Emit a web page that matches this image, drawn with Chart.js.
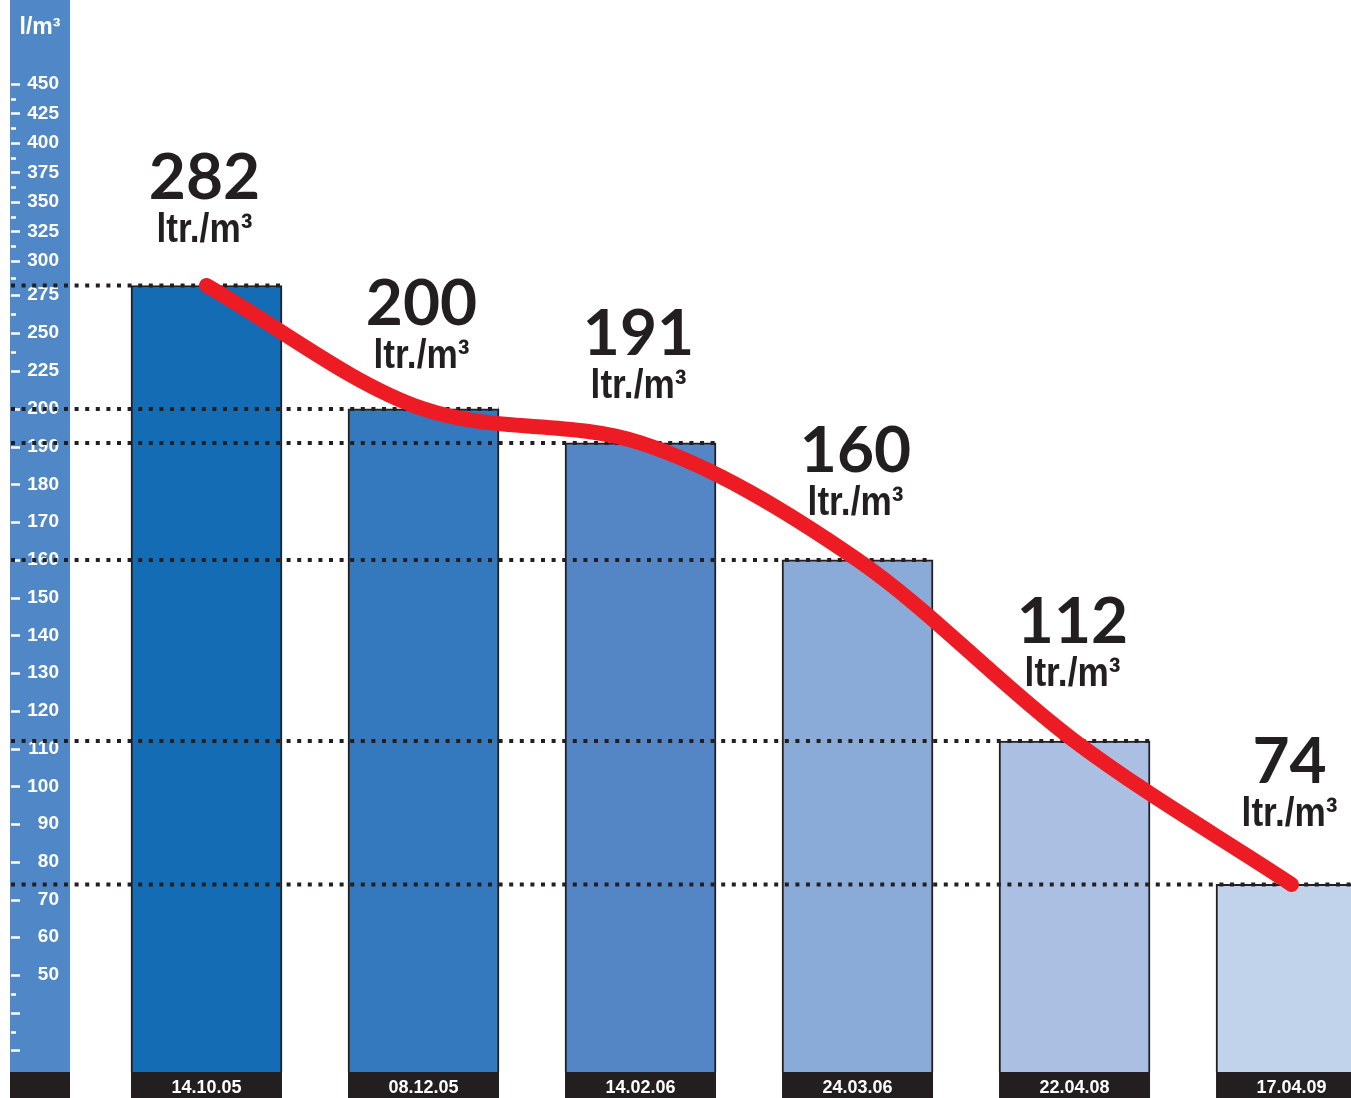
<!DOCTYPE html>
<html>
<head>
<meta charset="utf-8">
<script src="https://cdn.jsdelivr.net/npm/chart.js@4.4.0/dist/chart.umd.min.js"></script>
<style>
  html, body { margin: 0; padding: 0; background: #fff; }
  #wrap { width: 1351px; height: 1098px; }
</style>
</head>
<body>
<div id="wrap"><canvas id="chart" width="1351" height="1098"></canvas></div>
<script>
// values
const dates = ['14.10.05', '08.12.05', '14.02.06', '24.03.06', '22.04.08', '17.04.09'];
const values = [282, 200, 191, 160, 112, 74];
const unitText = 'ltr./m³';
const axisUnit = 'l/m³';

// y axis marks: labelled ones, short dashes, and unlabelled long dashes
const yLabelled = [450, 425, 400, 375, 350, 325, 300, 275, 250, 225, 200, 190, 180, 170, 160, 150, 140, 130, 120, 110, 100, 90, 80, 70, 60, 50];
const yMinor = [437.5, 412.5, 387.5, 362.5, 337.5, 312.5, 287.5, 262.5, 237.5, 45, 35];
const yBare = [40, 30];

const barColors = ['#136cb4', '#3479be', '#5486c6', '#8aabd7', '#abbfe3', '#c1d3eb'];
const ink = '#231f20';
const bandBlue = '#4f87c7';
const red = '#ed1c24';

// the printed axis is not linear: steps get wider below 300 and again below 200
const breaks = [[24.3, 0], [50, 0.0982], [200, 0.6711], [275, 0.7864], [300, 0.8209], [450, 1]];

function toDecimal(v) {
    if (v <= breaks[0][0]) return 0;
    for (let i = 1; i < breaks.length; i++) {
        const [v0, d0] = breaks[i - 1];
        const [v1, d1] = breaks[i];
        if (v <= v1 || i === breaks.length - 1) {
            return d0 + (v - v0) / (v1 - v0) * (d1 - d0);
        }
    }
}

function fromDecimal(d) {
    for (let i = 1; i < breaks.length; i++) {
        const [v0, d0] = breaks[i - 1];
        const [v1, d1] = breaks[i];
        if (d <= d1 || i === breaks.length - 1) {
            return v0 + (d - d0) / (d1 - d0) * (v1 - v0);
        }
    }
}

const LinearScale = Chart.LinearScale || Chart.registry.getScale('linear');

class PiecewiseScale extends LinearScale {
    getPixelForValue(value) {
        if (value === null || isNaN(value)) return NaN;
        return this.getPixelForDecimal(toDecimal(value));
    }
    getValueForPixel(pixel) {
        return fromDecimal(this.getDecimalForPixel(pixel));
    }
}
PiecewiseScale.id = 'piecewise';
PiecewiseScale.defaults = LinearScale.defaults;
Chart.register(PiecewiseScale);

// blue axis band, black footer boxes under the bars
const backdrop = {
    id: 'backdrop',
    beforeDraw(chart) {
        const ctx = chart.ctx;
        const area = chart.chartArea;
        ctx.save();
        ctx.fillStyle = '#ffffff';
        ctx.fillRect(0, 0, chart.width, chart.height);

        ctx.fillStyle = bandBlue;
        ctx.fillRect(10, 0, 60, area.bottom);
        ctx.fillStyle = ink;
        ctx.fillRect(10, area.bottom, 60, chart.height - area.bottom);

        const meta = chart.getDatasetMeta(0);
        meta.data.forEach(bar => {
            ctx.fillRect(bar.x - bar.width / 2, area.bottom, bar.width, chart.height - area.bottom);
        });

        ctx.fillStyle = '#ffffff';
        ctx.font = 'bold 23px "Liberation Sans", Arial, sans-serif';
        ctx.textAlign = 'center';
        ctx.textBaseline = 'alphabetic';
        ctx.fillText(axisUnit, 40, 34);
        ctx.restore();
    }
};

// the little white dashes on the axis band
const axisDashes = {
    id: 'axisDashes',
    beforeDatasetsDraw(chart) {
        const ctx = chart.ctx;
        const y = chart.scales.y;
        ctx.save();
        ctx.strokeStyle = '#ffffff';
        ctx.lineWidth = 2.5;
        const draw = (v, len) => {
            const py = Math.round(y.getPixelForValue(v)) + 0.5;
            ctx.beginPath();
            ctx.moveTo(11, py);
            ctx.lineTo(11 + len, py);
            ctx.stroke();
        };
        yLabelled.forEach(v => draw(v, 9));
        yBare.forEach(v => draw(v, 9));
        yMinor.forEach(v => draw(v, 5));
        ctx.restore();
    }
};

// dotted guides from the axis to each bar top
const guides = {
    id: 'guides',
    afterDatasetDraw(chart, args) {
        if (args.index !== 0) return;
        const ctx = chart.ctx;
        ctx.save();
        ctx.strokeStyle = ink;
        ctx.lineWidth = 4;
        ctx.setLineDash([4, 6.6]);
        args.meta.data.forEach(bar => {
            ctx.beginPath();
            ctx.moveTo(11, bar.y);
            ctx.lineTo(bar.x + bar.width / 2, bar.y);
            ctx.stroke();
        });
        ctx.restore();
    }
};

// big numbers above the bars (the last two sit a bit higher to clear the curve)
const lift = [0, -2, 2, 2, 12, 15];
const valueLabels = {
    id: 'valueLabels',
    afterDatasetsDraw(chart) {
        const ctx = chart.ctx;
        const meta = chart.getDatasetMeta(0);
        ctx.save();
        ctx.fillStyle = ink;
        ctx.textAlign = 'center';
        ctx.textBaseline = 'alphabetic';
        meta.data.forEach((bar, i) => {
            ctx.font = 'bold 64px Lato, "Liberation Sans", sans-serif';
            ctx.fillText(String(values[i]), bar.x - 2, bar.y - 86 - lift[i]);
            // the unit is set in a condensed face in the original
            ctx.save();
            ctx.translate(bar.x - 2, bar.y - 43 - lift[i]);
            ctx.scale(0.88, 1);
            ctx.font = 'bold 40px "Liberation Sans", Arial, sans-serif';
            ctx.fillText(unitText, 0, 0);
            ctx.restore();
        });
        ctx.restore();
    }
};

const points = values.map((v, i) => ({ x: i, y: v }));

new Chart(document.getElementById('chart'), {
    type: 'bar',
    data: {
        datasets: [{
            type: 'bar',
            data: points,
            backgroundColor: barColors,
            borderColor: ink,
            borderWidth: 2,
            borderSkipped: 'bottom',
            barThickness: 151,
            order: 2
        }, {
            type: 'line',
            data: points,
            borderColor: red,
            borderWidth: 15,
            borderCapStyle: 'round',
            borderJoinStyle: 'round',
            cubicInterpolationMode: 'monotone',
            pointRadius: 0,
            fill: false,
            clip: false,
            order: 1
        }]
    },
    options: {
        responsive: false,
        animation: false,
        devicePixelRatio: 1,
        layout: { padding: { top: 84, left: 0, right: 0, bottom: 0 } },
        plugins: {
            legend: { display: false },
            tooltip: { enabled: false }
        },
        scales: {
            x: {
                type: 'linear',
                offset: false,
                bounds: 'data',
                min: -0.629,
                max: 5.274,
                grid: { display: false, drawTicks: false, offset: false },
                border: { display: false },
                afterBuildTicks: s => { s.ticks = dates.map((d, i) => ({ value: i })); },
                afterFit: s => { s.height = 26; },
                ticks: {
                    autoSkip: false,
                    maxRotation: 0,
                    padding: 5,
                    color: '#ffffff',
                    font: { family: '"Liberation Sans", Arial, sans-serif', size: 18, weight: 'bold' },
                    callback: v => dates[v]
                }
            },
            y: {
                type: 'piecewise',
                bounds: 'data',
                min: 24.3,
                max: 450,
                grid: { display: false, drawTicks: false },
                border: { display: false },
                afterBuildTicks: s => {
                    s.ticks = yLabelled.map(v => ({ value: v }));
                },
                afterFit: s => { s.width = 70; },
                ticks: {
                    autoSkip: false,
                    padding: 11,
                    color: '#ffffff',
                    font: { family: '"Liberation Sans", Arial, sans-serif', size: 19, weight: 'bold' },
                    callback: v => String(v)
                }
            }
        }
    },
    plugins: [backdrop, axisDashes, guides, valueLabels]
});
</script>
</body>
</html>
